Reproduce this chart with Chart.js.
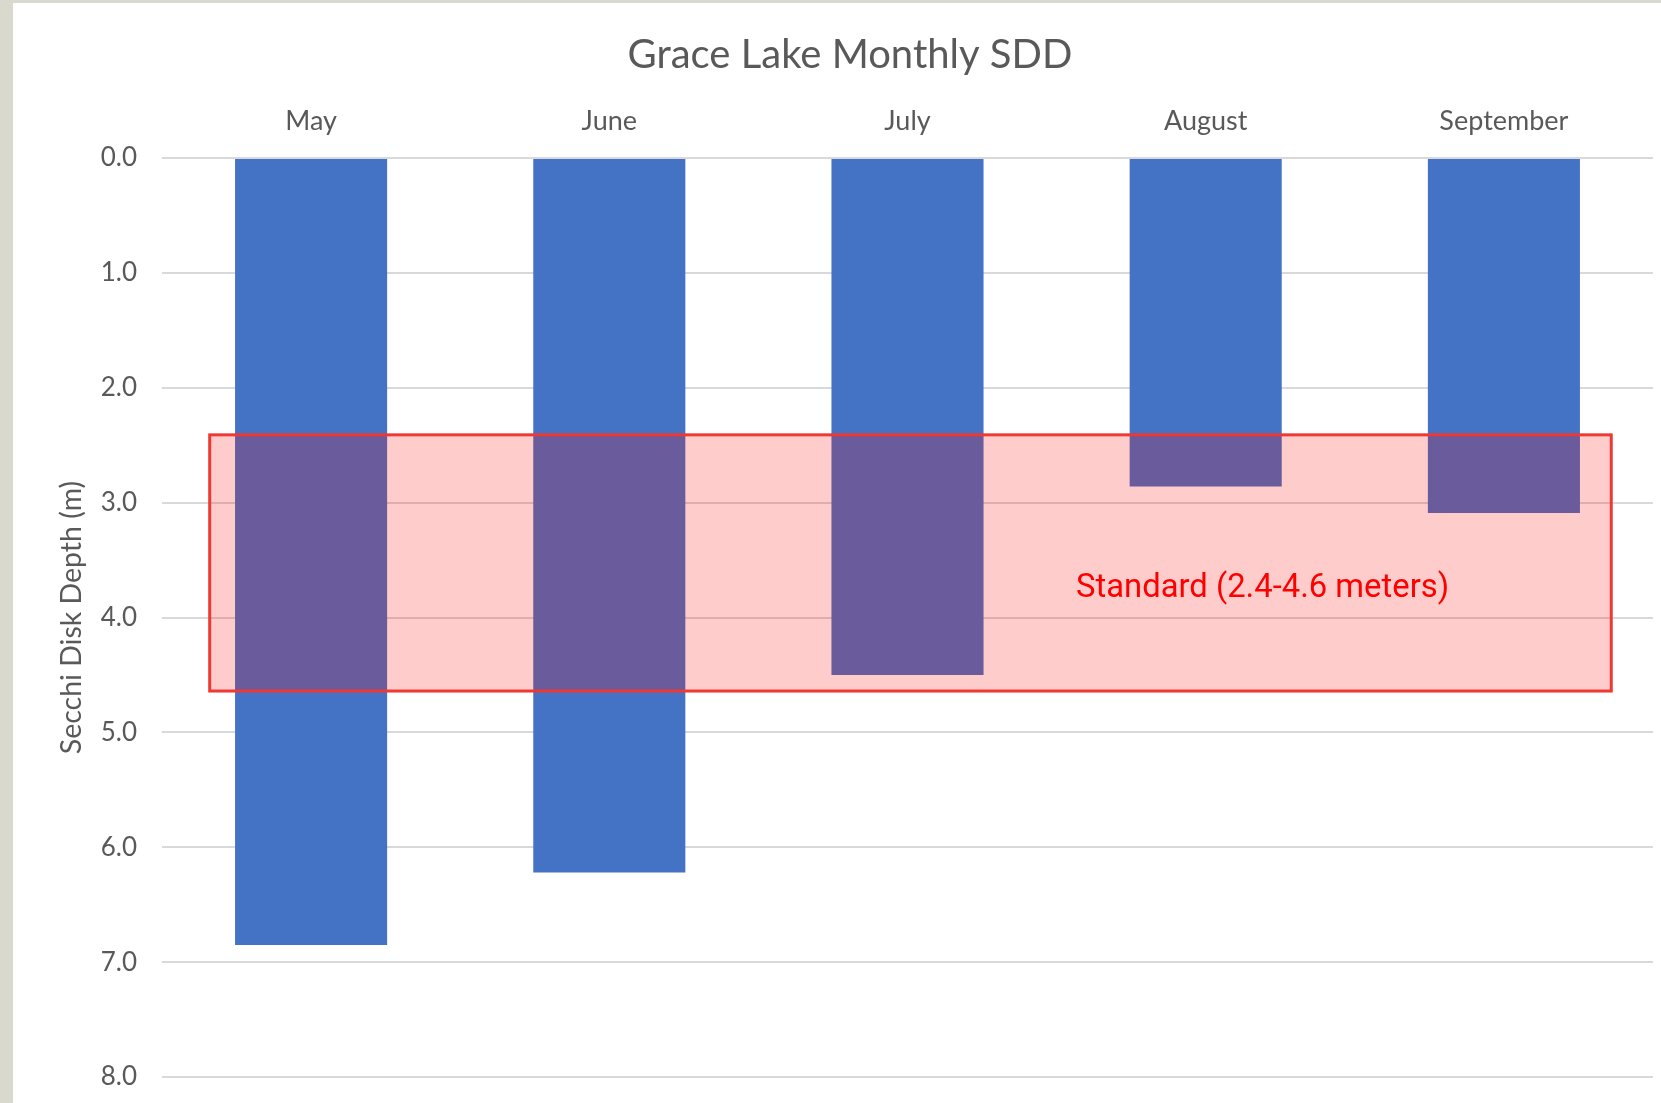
<!DOCTYPE html>
<html>
<head>
<meta charset="utf-8">
<script src="https://cdn.jsdelivr.net/npm/chart.js@4.4.1/dist/chart.umd.min.js"></script>
<style>
  html, body { margin: 0; padding: 0; }
  body { width: 1661px; height: 1103px; background: #d9d9ce; overflow: hidden; position: relative; }
  #wrap { position: absolute; left: 13px; top: 3px; width: 1674px; height: 1100px; background: #ffffff; }
</style>
</head>
<body>
<div id="wrap"><canvas id="sddChart"></canvas></div>
<script>
// Monatliche Sichttiefe (Secchi) in Metern
const months = ['May', 'June', 'July', 'August', 'September'];
const depths = [6.85, 6.22, 4.5, 2.86, 3.09];

// Standardbereich (so wie im Bild gezeichnet)
const standardRange = [2.41, 4.64];
const standardLabel = 'Standard (2.4-4.6 meters)';
const standardSpan = [-0.34, 4.36];   // Kategorie-Index links/rechts
const labelAt = [2.565, 3.75];        // Kategorie-Index, Tiefe

const gray = '#595959';

// Rechteck und Text für den Standardbereich
const standardBox = {
    id: 'standardBox',
    afterDatasetsDraw(chart) {
        const { ctx, scales } = chart;
        const x0 = scales.x.getPixelForValue(standardSpan[0]);
        const x1 = scales.x.getPixelForValue(standardSpan[1]);
        const y0 = scales.y.getPixelForValue(standardRange[0]);
        const y1 = scales.y.getPixelForValue(standardRange[1]);
        ctx.save();
        ctx.fillStyle = 'rgba(255, 0, 0, 0.2)';
        ctx.fillRect(x0, y0, x1 - x0, y1 - y0);
        ctx.strokeStyle = 'rgb(238, 56, 50)';
        ctx.lineWidth = 3;
        ctx.strokeRect(x0, y0, x1 - x0, y1 - y0);
        ctx.fillStyle = '#ff0000';
        ctx.font = '32.8px Roboto';
        ctx.textAlign = 'left';
        ctx.textBaseline = 'middle';
        ctx.fillText(standardLabel, scales.x.getPixelForValue(labelAt[0]), scales.y.getPixelForValue(labelAt[1]));
        ctx.restore();
    }
};

const config = {
    type: 'bar',
    data: {
        labels: months,
        datasets: [{
            label: 'SDD',
            data: depths,
            backgroundColor: '#4472c4',
            barPercentage: 0.51,
            categoryPercentage: 1.0
        }]
    },
    options: {
        responsive: true,
        maintainAspectRatio: false,
        animation: false,
        layout: { padding: { left: 34, right: 34, top: 0, bottom: 26 } },
        scales: {
            x: {
                position: 'top',
                grid: { display: false, drawTicks: false },
                border: { display: false },
                ticks: { color: gray, font: { family: 'Lato', size: 27 }, padding: 21 },
                afterFit(scale) { scale.height = 78.5; }
            },
            y: {
                reverse: true,
                min: 0,
                max: 8,
                grid: { color: '#d9d9d9', lineWidth: 2, drawTicks: false },
                border: { display: false },
                ticks: {
                    stepSize: 1,
                    color: gray,
                    font: { family: 'Lato', size: 26 },
                    padding: 25,
                    callback: v => v.toFixed(1)
                },
                title: {
                    display: true,
                    text: 'Secchi Disk Depth (m)',
                    color: gray,
                    font: { family: 'Lato', size: 28.5 },
                    padding: { top: 8, bottom: 0 }
                },
                afterFit(scale) {
                    scale.width = 115;
                    // Tick-Padding soll nicht nach unten wirken
                    scale.paddingTop = 0;
                    scale.paddingBottom = 0;
                }
            }
        },
        plugins: {
            legend: { display: false },
            tooltip: { enabled: false },
            title: {
                display: true,
                text: 'Grace Lake Monthly SDD',
                color: gray,
                font: { family: 'Lato', size: 40, weight: 'normal' },
                padding: { top: 28.5, bottom: 0 }
            }
        }
    },
    plugins: [standardBox]
};

new Chart(document.getElementById('sddChart'), config);
</script>
</body>
</html>
